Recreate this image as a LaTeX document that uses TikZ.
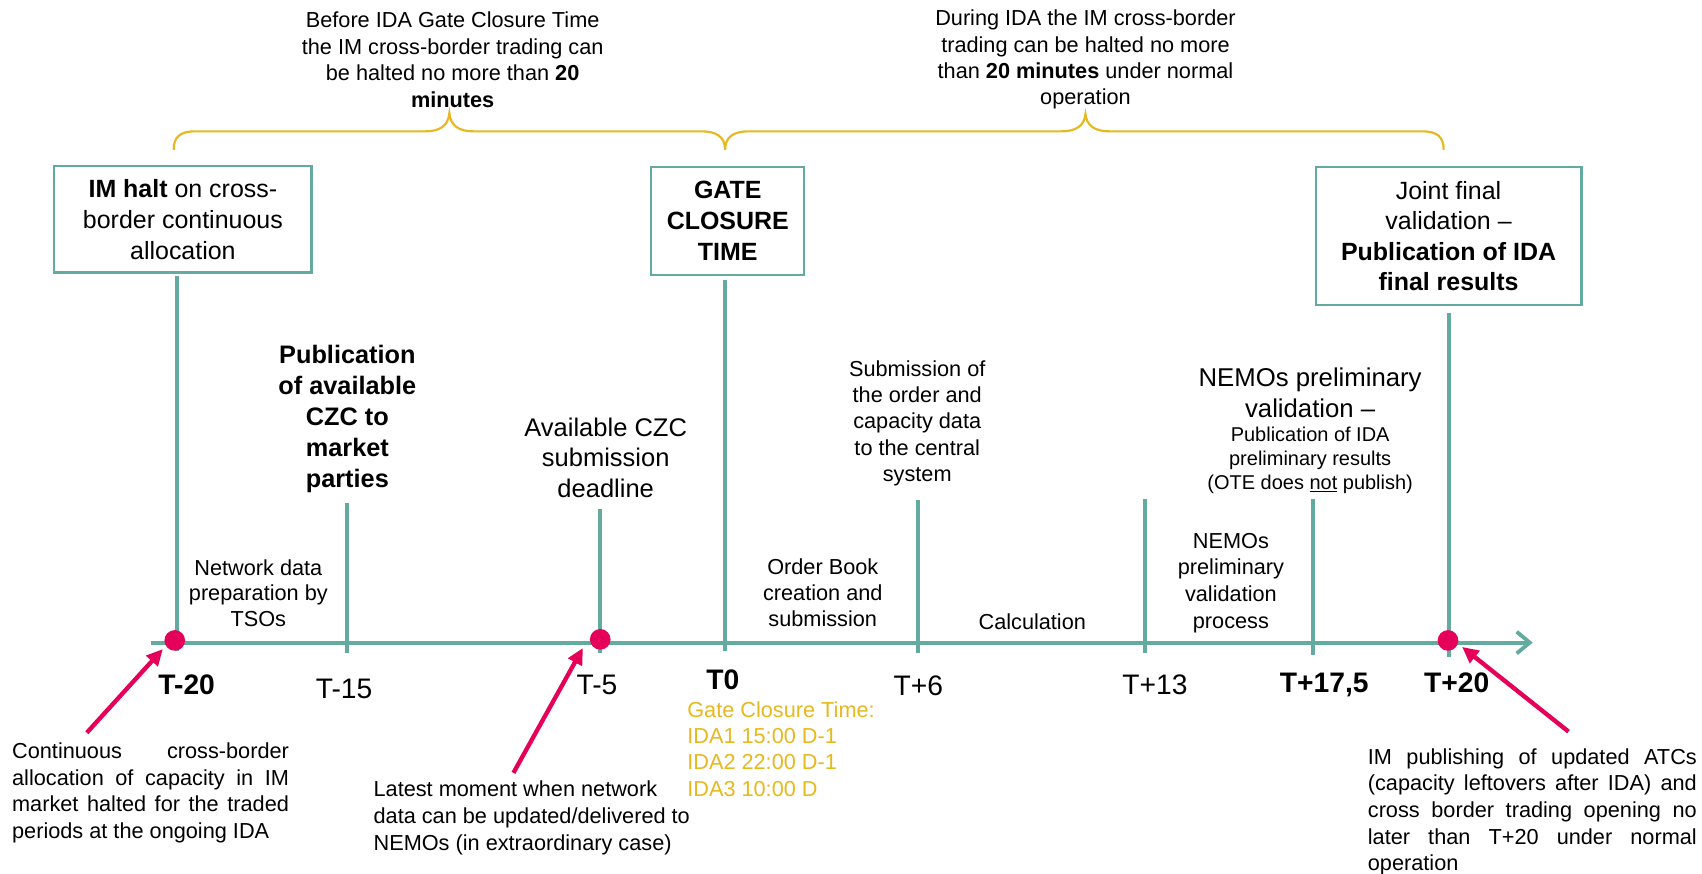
\documentclass[tikz,border=0pt]{standalone}
\usepackage{fontspec}
\setmainfont{Liberation Sans}
\usetikzlibrary{arrows.meta}
\definecolor{tealc}{RGB}{99,170,160}
\definecolor{magc}{RGB}{229,0,90}
\definecolor{yelc}{RGB}{232,185,30}
\begin{document}
\begin{tikzpicture}[x=1pt,y=-1pt,
  txt/.style={inner sep=0pt, align=center, font=\fontsize{20}{24.3}\selectfont},
  bigtxt/.style={inner sep=0pt, align=center, font=\fontsize{23.5}{28}\selectfont},
  boxnode/.style={draw=tealc, line width=2pt, inner sep=0pt, align=center, font=\fontsize{23}{28.5}\selectfont},
  tickline/.style={draw=tealc, line width=3.6pt},
  axisline/.style={draw=tealc, line width=3.8pt, -{Straight Barb[length=12pt,width=20pt,line width=3.5pt]}},
  lbl/.style={inner sep=0pt, font=\fontsize{26}{30}\selectfont},
  dot/.style={circle, fill=magc, minimum size=19pt, inner sep=0pt},
  marrow/.style={draw=magc, line width=4pt, -{Triangle[length=15pt,width=14pt]}},
  bracepath/.style={draw=yelc, line width=2pt},
  ytxt/.style={inner sep=0pt, align=left, text=yelc, font=\fontsize{20}{24.3}\selectfont},
  ltxt/.style={inner sep=0pt, align=left, font=\fontsize{20}{24.5}\selectfont}
]
\fill[white] (0,0) rectangle (1568,805);
\useasboundingbox (0,0) rectangle (1568,805);

% top texts
\node[txt] (topL) at (417,55) {Before IDA Gate Closure Time\\the IM cross-border trading can\\be halted no more than \textbf{20}\\\textbf{minutes}};
\node[txt] (topR) at (1000,55) {During IDA the IM cross-border\\trading can be halted no more\\than \textbf{20 minutes} under normal\\operation};

% braces
\coordinate (b1l) at (160,138);
\coordinate (b1t) at (414,104);
\coordinate (bmid) at (668,138);
\coordinate (b2t) at (1000,105);
\coordinate (b2r) at (1330,138);
\draw[bracepath] (b1l) .. controls (160,126) and (166,121) .. (180,121) -- (392,121)
  .. controls (405,121) and (413,116) .. (b1t)
  .. controls (415,116) and (423,121) .. (436,121) -- (646,121)
  .. controls (660,121) and (668,126) .. (bmid);
\draw[bracepath] (bmid) .. controls (668,126) and (676,121) .. (690,121) -- (978,121)
  .. controls (991,121) and (999,116) .. (b2t)
  .. controls (1001,116) and (1009,121) .. (1022,121) -- (1310,121)
  .. controls (1324,121) and (1330,126) .. (b2r);

% boxes
\node[boxnode, minimum width=237pt, minimum height=98pt] (box1) at (168.5,202) {\textbf{IM halt} on cross-\\border continuous\\allocation};
\node[boxnode, minimum width=141pt, minimum height=99pt, font=\bfseries\fontsize{23}{28.5}\selectfont] (box2) at (670.5,203.5) {GATE\\CLOSURE\\TIME};
\node[boxnode, minimum width=245pt, minimum height=127pt, font=\fontsize{23}{28.2}\selectfont] (box3) at (1334.5,217.5) {Joint final\\validation –\\\textbf{Publication of IDA}\\\textbf{final results}};

% axis
\coordinate (axs) at (139,592);
\coordinate (axe) at (1412,592);
\draw[axisline] (axs) -- (axe);

% tick bottoms and tops
\coordinate (m20b) at (163,600);
\coordinate (m15t) at (320,463); \coordinate (m15b) at (320,602);
\coordinate (m5t) at (553,469);  \coordinate (m5b) at (553,602);
\coordinate (p0b) at (668,600);
\coordinate (p6t) at (846,461);  \coordinate (p6b) at (846,602);
\coordinate (p13t) at (1055,460); \coordinate (p13b) at (1055,602);
\coordinate (p17t) at (1210,460); \coordinate (p17b) at (1210,603);
\coordinate (p20b) at (1335,605);

\draw[tickline, shorten <=2pt] (box1.south -| m20b) -- (m20b);
\draw[tickline] (m15t) -- (m15b);
\draw[tickline] (m5t) -- (m5b);
\draw[tickline, shorten <=4pt] (box2.south -| p0b) -- (p0b);
\draw[tickline] (p6t) -- (p6b);
\draw[tickline] (p13t) -- (p13b);
\draw[tickline] (p17t) -- (p17b);
\draw[tickline, shorten <=6pt] (box3.south -| p20b) -- (p20b);

% dots
\node[dot] (d20) at (161,590) {};
\node[dot] (d5) at (553,589) {};
\node[dot] (dp20) at (1334,590) {};

% magenta arrows
\coordinate (a1t) at (80,675);  \coordinate (a1h) at (150,598);
\coordinate (a2t) at (473,712); \coordinate (a2h) at (537,597);
\coordinate (a3t) at (1445,674); \coordinate (a3h) at (1347,596);
\draw[marrow] (a1t) -- (a1h);
\draw[marrow] (a2t) -- (a2h);
\draw[marrow] (a3t) -- (a3h);

% upper event texts
\node[inner sep=0pt, align=center, font=\bfseries\fontsize{23.3}{28.5}\selectfont] (pubczc) at (320,386) {Publication\\of available\\CZC to\\market\\parties};
\node[bigtxt] (availczc) at (558,421.5) {Available CZC\\submission\\deadline};
\node[txt] (subm) at (845,390) {Submission of\\the order and\\capacity data\\to the central\\system};
\node[inner sep=0pt, align=center, font=\fontsize{23.7}{28}\selectfont] (nemosA) at (1207,362) {NEMOs preliminary\\validation –};
\node[inner sep=0pt, align=center, font=\fontsize{18.4}{22}\selectfont] (nemosB) at (1207,424) {Publication of IDA\\preliminary results\\(OTE does \underline{not} publish)};

% interval texts
\node[txt, font=\fontsize{20}{23.5}\selectfont] (netdata) at (238,546.5) {Network data\\preparation by\\TSOs};
\node[txt, font=\fontsize{20}{24}\selectfont] (orderbook) at (758,546) {Order Book\\creation and\\submission};
\node[txt] (calc) at (951,573) {Calculation};
\node[txt, font=\fontsize{20}{24.7}\selectfont] (nemosproc) at (1134,537) {NEMOs\\preliminary\\validation\\process};

% tick labels
\node[lbl, font=\bfseries\fontsize{26}{30}\selectfont] (lm20) at (172,631) {T-20};
\node[lbl] (lm15) at (317,635) {T-15};
\node[lbl] (lm5) at (550,631) {T-5};
\node[lbl, font=\bfseries\fontsize{26}{30}\selectfont] (l0) at (666,626) {T0};
\node[lbl] (lp6) at (846,632) {T+6};
\node[lbl] (lp13) at (1064,631) {T+13};
\node[lbl, font=\bfseries\fontsize{26}{30}\selectfont] (lp17) at (1220,631) {T+17,5};
\node[lbl, font=\bfseries\fontsize{26}{30}\selectfont] (lp20) at (1342,629) {T+20};

% gate closure times
\node[ytxt, anchor=west] (gct) at (633,690) {Gate Closure Time:\\IDA1 15:00 D-1\\IDA2 22:00 D-1\\IDA3 10:00 D};

% bottom notes
\node[ltxt, anchor=west] (noteL) at (11,730.5) {\makebox[255pt][s]{Continuous cross-border}\\\makebox[255pt][s]{allocation of capacity in IM}\\\makebox[255pt][s]{market halted for the traded}\\periods at the ongoing IDA};
\node[ltxt, anchor=west] (noteM) at (344,753.5) {Latest moment when network\\data can be updated/delivered to\\NEMOs (in extraordinary case)};
\node[ltxt, anchor=west] (noteR) at (1260,748) {\makebox[303pt][s]{IM publishing of updated ATCs}\\\makebox[303pt][s]{(capacity leftovers after IDA) and}\\\makebox[303pt][s]{cross border trading opening no}\\\makebox[303pt][s]{later than T+20 under normal}\\operation};
\end{tikzpicture}
\end{document}
